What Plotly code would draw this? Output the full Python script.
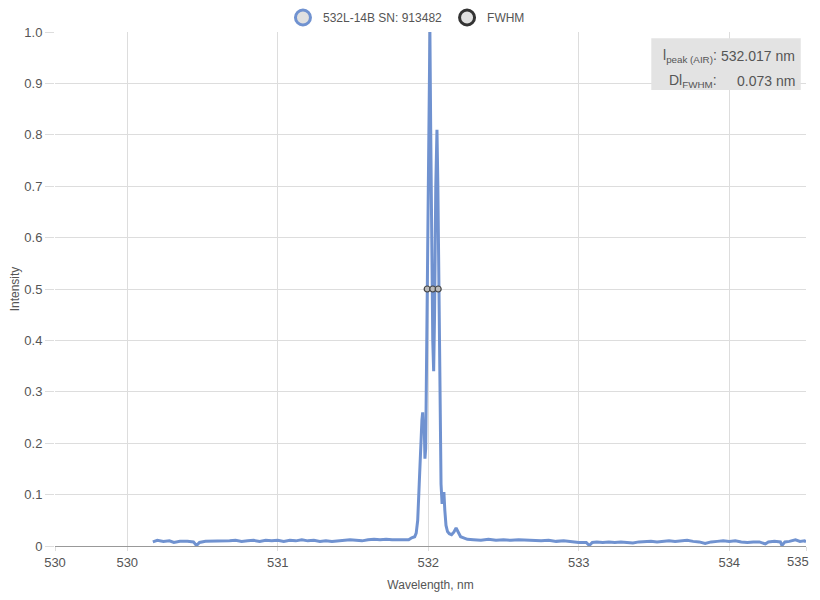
import plotly.graph_objects as go

# spectrum
wavelength = [530.17, 530.20, 530.24, 530.28, 530.31, 530.35, 530.40, 530.44, 530.46, 530.48,
              530.52, 530.56, 530.60, 530.64, 530.68, 530.72, 530.76, 530.80, 530.84, 530.88,
              530.92, 530.96, 531.00, 531.04, 531.08, 531.12, 531.16, 531.20, 531.24, 531.28,
              531.32, 531.36, 531.40, 531.44, 531.48, 531.52, 531.56, 531.60, 531.64, 531.68,
              531.72, 531.76, 531.80, 531.84, 531.87, 531.89, 531.91, 531.92, 531.93, 531.94,
              531.95, 531.958, 531.963, 531.968, 531.973, 531.978, 531.983, 531.990, 531.997, 532.004,
              532.011, 532.016, 532.022, 532.030, 532.036, 532.042, 532.050, 532.058, 532.064, 532.070,
              532.078, 532.085, 532.092, 532.098, 532.104, 532.110, 532.118, 532.128, 532.140, 532.155,
              532.170, 532.185, 532.200, 532.215, 532.235, 532.26, 532.30, 532.35, 532.40, 532.45,
              532.50, 532.55, 532.60, 532.65, 532.70, 532.75, 532.80, 532.85, 532.90, 532.95,
              533.00, 533.05, 533.07, 533.09, 533.12, 533.16, 533.20, 533.24, 533.28, 533.32,
              533.36, 533.40, 533.44, 533.48, 533.52, 533.56, 533.60, 533.64, 533.68, 533.72,
              533.76, 533.80, 533.84, 533.88, 533.92, 533.96, 534.00, 534.04, 534.08, 534.12,
              534.16, 534.20, 534.24, 534.26, 534.30, 534.34, 534.35, 534.37, 534.40, 534.44,
              534.47, 534.50, 534.51]
intensity = [0.008, 0.011, 0.009, 0.010, 0.007, 0.009, 0.009, 0.008, 0.001, 0.007,
             0.009, 0.009, 0.010, 0.009, 0.010, 0.011, 0.009, 0.010, 0.011, 0.009,
             0.011, 0.010, 0.011, 0.009, 0.011, 0.010, 0.012, 0.010, 0.011, 0.009,
             0.010, 0.009, 0.010, 0.010, 0.012, 0.011, 0.010, 0.012, 0.013, 0.012,
             0.013, 0.012, 0.012, 0.013, 0.012, 0.016, 0.018, 0.025, 0.05, 0.12,
             0.20, 0.245, 0.26, 0.22, 0.24, 0.17, 0.19, 0.40, 0.52, 0.85,
             1.0, 0.82, 0.60, 0.40, 0.34, 0.45, 0.70, 0.81, 0.70, 0.52,
             0.30, 0.12, 0.082, 0.10, 0.105, 0.07, 0.04, 0.028, 0.024, 0.022,
             0.027, 0.035, 0.025, 0.018, 0.016, 0.013, 0.012, 0.011, 0.013, 0.011,
             0.012, 0.011, 0.012, 0.011, 0.010, 0.010, 0.011, 0.009, 0.010, 0.008,
             0.007, 0.007, 0.001, 0.007, 0.008, 0.007, 0.008, 0.007, 0.008, 0.007,
             0.006, 0.008, 0.009, 0.009, 0.008, 0.009, 0.010, 0.009, 0.010, 0.011,
             0.009, 0.008, 0.005, 0.008, 0.009, 0.010, 0.009, 0.010, 0.008, 0.007,
             0.008, 0.008, 0.004, 0.008, 0.009, 0.008, 0.001, 0.008, 0.009, 0.012,
             0.009, 0.010, 0.008]

fwhm_x = [531.993, 532.030, 532.066]
fwhm_y = [0.5, 0.5, 0.5]

x_tickvals = [529.52, 530, 531, 532, 533, 534, 534.51]
x_ticktext = ['530', '530', '531', '532', '533', '534', '']
last_tick_label = '535'  # drawn as an annotation so it is not cut at the window edge
y_tickvals = [0, 0.1, 0.2, 0.3, 0.4, 0.5, 0.6, 0.7, 0.8, 0.9, 1.0]
y_ticktext = ['0', '0.1', '0.2', '0.3', '0.4', '0.5', '0.6', '0.7', '0.8', '0.9', '1.0']

series_name = '532L-14B SN: 913482'
peak_label = 'l<sub>peak (AIR)</sub>:'
peak_value = '532.017 nm'
fwhm_label = 'Dl<sub>FWHM</sub>:'
fwhm_value = '0.073 nm'

blue = '#7092d0'
txt = '#555555'

fig = go.Figure()
fig.add_trace(go.Scatter(x=wavelength, y=intensity, mode='lines', name=series_name,
                         line=dict(color=blue, width=3), showlegend=False))
fig.add_trace(go.Scatter(x=fwhm_x, y=fwhm_y, mode='markers', name='FWHM', showlegend=False,
                         marker=dict(size=6, color='#bbbbbb', line=dict(color='#444444', width=1.2))))

# legend-only entries (round symbols like the original)
fig.add_trace(go.Scatter(x=[None], y=[None], mode='markers', name=series_name,
                         marker=dict(size=15, color='#e0e0e0', line=dict(color=blue, width=3))))
fig.add_trace(go.Scatter(x=[None], y=[None], mode='markers', name='FWHM',
                         marker=dict(size=15, color='#e0e0e0', line=dict(color='#333333', width=3))))

# info box
fig.add_shape(type='rect', xref='paper', yref='paper', x0=0.794, x1=0.993, y0=0.887, y1=0.988,
              fillcolor='#e3e3e3', line=dict(width=0), layer='above')
fig.add_annotation(xref='paper', yref='paper', x=0.884, y=0.954, text=peak_label, showarrow=False,
                   xanchor='right', yanchor='middle', font=dict(size=14, color=txt))
fig.add_annotation(xref='paper', yref='paper', x=0.988, y=0.954, text=peak_value, showarrow=False,
                   xanchor='right', yanchor='middle', font=dict(size=14, color=txt))
fig.add_annotation(xref='paper', yref='paper', x=0.884, y=0.905, text=fwhm_label, showarrow=False,
                   xanchor='right', yanchor='middle', font=dict(size=14, color=txt))
fig.add_annotation(xref='paper', yref='paper', x=0.988, y=0.905, text=fwhm_value, showarrow=False,
                   xanchor='right', yanchor='middle', font=dict(size=14, color=txt))

fig.add_annotation(xref='paper', yref='paper', x=1.0, y=0, text=last_tick_label, showarrow=False,
                   xanchor='right', yanchor='top', xshift=5, yshift=-6,
                   font=dict(size=13, color=txt))

# page has an 8px body margin, so the figure is sized to fit the window
fig.update_layout(
    width=812, height=584,
    margin=dict(l=47, r=14, t=24, b=46, autoexpand=False),
    paper_bgcolor='white', plot_bgcolor='white',
    font=dict(family='Liberation Sans, Arial, sans-serif', size=12, color=txt),
    legend=dict(orientation='h', x=0.468, xanchor='center', y=1.0, yanchor='bottom',
                font=dict(size=12, color=txt), itemsizing='trace', itemwidth=30,
                tracegroupgap=0),
)
fig.update_xaxes(range=[529.52, 534.51], tickvals=x_tickvals, ticktext=x_ticktext,
                 showgrid=True, gridcolor='#dddddd', zeroline=False, automargin=False,
                 showline=True, linecolor='#999999', linewidth=1,
                 ticks='outside', ticklen=4, tickcolor='#dddddd',
                 title=dict(text='Wavelength, nm', font=dict(size=12, color=txt), standoff=16),
                 tickfont=dict(size=13, color=txt))
fig.update_yaxes(range=[0, 1], tickvals=y_tickvals, ticktext=y_ticktext,
                 showgrid=True, gridcolor='#dddddd', zeroline=False, showline=False, automargin=False,
                 ticks='outside', ticklen=9, tickcolor='#dddddd',
                 title=dict(text='Intensity', font=dict(size=12, color=txt), standoff=8),
                 tickfont=dict(size=13, color=txt))

fig.write_html('out.html')
